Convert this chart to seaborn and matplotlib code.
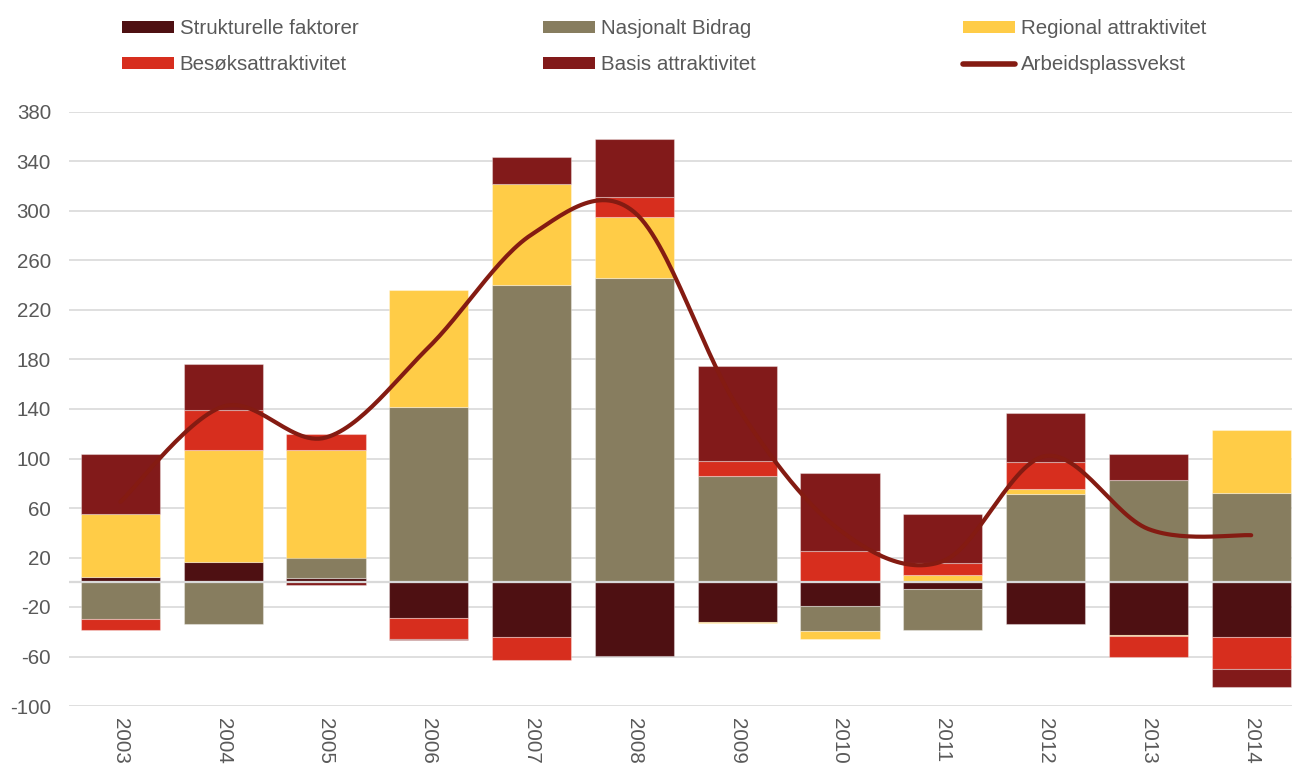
import numpy as np
import pandas as pd
import matplotlib
matplotlib.use("Agg")
import matplotlib.pyplot as plt
from matplotlib.patches import Patch
from matplotlib.lines import Line2D
import seaborn as sns

# Employment growth decomposition by year
years = ["2003", "2004", "2005", "2006", "2007", "2008",
         "2009", "2010", "2011", "2012", "2013", "2014"]
strukturelle = [4.5, 16, 3.5, -28.5, -44.5, -59.5, -32.5, -19, -5.5, -34, -42.5, -44.5]
nasjonalt = [-30, -34, 16.5, 141.5, 240, 246, 86, -20.5, -33, 71.5, 83, 72.5]
regional = [50.5, 91, 87, 94.5, 81.5, 49, -0.5, -6, 6, 3.5, -1, 50.5]
besok = [-8.5, 32.5, 12.5, -17, -18, 16, 12, 25.5, 9.5, 22, -17, -25.5]
basis = [49, 36.5, -2.5, -0.8, 22, 47, 76.5, 62.5, 40, 39.5, 20.5, -15]
arbeidsplassvekst = [65, 142, 117, 190, 281, 299, 142, 42, 17, 102, 43, 38]

series = [
    ("Strukturelle faktorer", strukturelle, "#4E1012"),
    ("Nasjonalt Bidrag", nasjonalt, "#877D5F"),
    ("Regional attraktivitet", regional, "#FFCC47"),
    ("Besøksattraktivitet", besok, "#D72E1E"),
    ("Basis attraktivitet", basis, "#821A1A"),
]
line_name = "Arbeidsplassvekst"
line_color = "#841B12"
text_color = "#595959"
grid_color = "#D9D9D9"
font_size = 14.8

sns.set_theme(style="white")
plt.rcParams["font.family"] = ["Liberation Sans", "DejaVu Sans"]
plt.rcParams["axes.unicode_minus"] = False

fig = plt.figure(figsize=(12.92, 7.65), dpi=100)
ax = fig.add_axes([69 / 1292, 59 / 765, 1233.6 / 1292, 594 / 765])

# Stack positives upward and negatives downward, in series order
pos_base = np.zeros(len(years))
neg_base = np.zeros(len(years))
for name, vals, color in series:
    v = np.asarray(vals, dtype=float)
    bottom = np.where(v >= 0, pos_base, neg_base)
    df = pd.DataFrame({"year": years, "value": v})
    sns.barplot(data=df, x="year", y="value", bottom=bottom, color=color,
                saturation=1, width=0.77, errorbar=None, ax=ax,
                edgecolor=(1, 1, 1, 0.35), linewidth=0.8, zorder=2)
    pos_base = pos_base + np.where(v >= 0, v, 0)
    neg_base = neg_base + np.where(v < 0, v, 0)

# Smoothed total line (Catmull-Rom through the yearly values)
xs = np.arange(len(years), dtype=float)
ys = np.asarray(arbeidsplassvekst, dtype=float)
px = np.concatenate([[xs[0]], xs, [xs[-1]]])
py = np.concatenate([[ys[0]], ys, [ys[-1]]])
cx, cy = [], []
t = np.linspace(0, 1, 30)
for i in range(1, len(px) - 2):
    p0, p1, p2, p3 = [np.array([px[j], py[j]]) for j in (i - 1, i, i + 1, i + 2)]
    tt = t[:, None]
    pts = 0.5 * ((2 * p1) + (-p0 + p2) * tt + (2 * p0 - 5 * p1 + 4 * p2 - p3) * tt ** 2
                 + (-p0 + 3 * p1 - 3 * p2 + p3) * tt ** 3)
    cx.extend(pts[:, 0]); cy.extend(pts[:, 1])
sns.lineplot(x=cx, y=cy, ax=ax, color=line_color, linewidth=3.0, sort=False,
             zorder=4, solid_capstyle="round")

ax.axhline(0, color=grid_color, linewidth=1.6, zorder=3)

ax.set_xlim(-0.5, 11.5)
ax.set_ylim(-100, 380)
ax.set_yticks(np.arange(-100, 381, 40))
ax.yaxis.grid(True, color=grid_color, linewidth=1.2, zorder=0)
ax.set_axisbelow(True)
ax.set_xlabel("")
ax.set_ylabel("")
for s in ax.spines.values():
    s.set_visible(False)
ax.tick_params(axis="y", length=0, pad=13, labelsize=font_size, labelcolor=text_color)
ax.tick_params(axis="x", length=0, pad=9, labelsize=font_size, labelcolor=text_color)
for lab in ax.get_xticklabels():
    lab.set_rotation(270)
    lab.set_ha("center")
    lab.set_va("top")

# Legend in three columns of two entries
columns = [
    [(series[0][0], series[0][2]), (series[3][0], series[3][2])],
    [(series[1][0], series[1][2]), (series[4][0], series[4][2])],
    [(series[2][0], series[2][2]), (line_name, None)],
]
col_x = [122, 543, 963]
for cx0, entries in zip(col_x, columns):
    handles = []
    for name, color in entries:
        if color is None:
            handles.append(Line2D([0], [0], color=line_color, linewidth=4,
                                  solid_capstyle="round", label=name))
        else:
            handles.append(Patch(facecolor=color, edgecolor="none", label=name))
    fig.legend(handles=handles, loc="upper left",
               bbox_to_anchor=(cx0 / 1292, 1 - 19 / 765), frameon=False,
               borderpad=0, borderaxespad=0, handlelength=2.55, handleheight=0.55,
               handletextpad=0.25, labelspacing=0.85, fontsize=font_size,
               labelcolor=text_color)

fig.savefig("out.png", dpi=100)
